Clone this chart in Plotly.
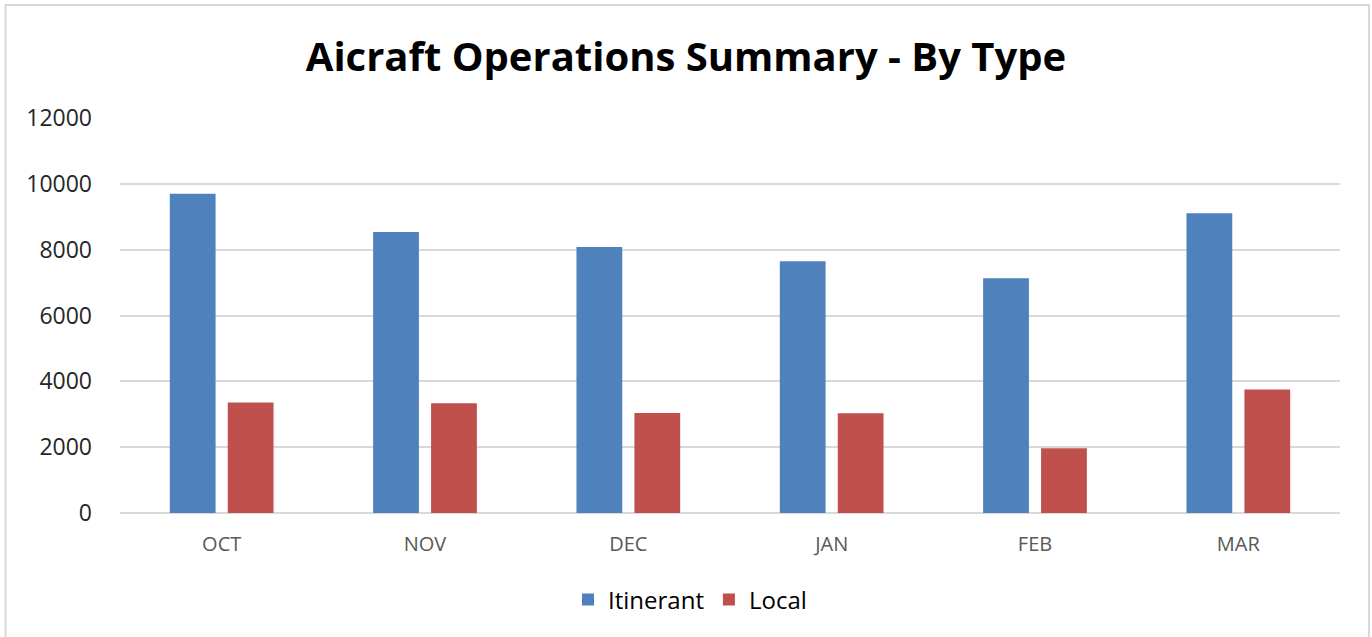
import plotly.graph_objects as go

months = ["OCT", "NOV", "DEC", "JAN", "FEB", "MAR"]
itinerant = [9700, 8535, 8080, 7645, 7130, 9105]
local = [3360, 3335, 3040, 3030, 1970, 3750]
y_ticks = [0, 2000, 4000, 6000, 8000, 10000, 12000]

W, H = 1372, 637
L, R, T, B = 120, 1340, 118, 513

def px_x(px):
    return (px - L) / (R - L)

def px_y(py):
    return (B - py) / (B - T)

fig = go.Figure()
fig.add_trace(go.Bar(name="Itinerant", x=months, y=itinerant, marker_color="#4F81BD",
                     marker_line_width=0))
fig.add_trace(go.Bar(name="Local", x=months, y=local, marker_color="#C0504D",
                     marker_line_width=0))

fig.update_layout(
    width=W, height=H,
    margin=dict(l=L, r=W - R, t=T, b=H - B, autoexpand=False),
    paper_bgcolor="white", plot_bgcolor="white",
    barmode="group", bargap=0.43, bargroupgap=0.21,
    title=dict(text="<b>Aicraft Operations Summary - By Type</b>",
               x=0.5, xanchor="center", y=1 - 57 / H, yanchor="middle",
               font=dict(family="Open Sans", size=40, color="black")),
    legend=dict(orientation="h", x=px_x(690), xanchor="center", y=px_y(600), yanchor="middle",
                font=dict(family="Open Sans", size=24, color="black"),
                itemwidth=30, traceorder="normal"),
    font=dict(family="Open Sans"),
)
fig.update_yaxes(range=[0, 12000], tickvals=y_ticks, ticktext=[str(v) for v in y_ticks],
                 showgrid=True, gridcolor="#d9d9d9", gridwidth=1.5,
                 zeroline=True, zerolinecolor="#d9d9d9", zerolinewidth=1.5,
                 showline=False, ticks="", ticklabelstandoff=27,
                 tickfont=dict(family="Open Sans", size=23, color="#262626"))
fig.update_xaxes(showgrid=False, showline=False, ticks="", ticklabelstandoff=17,
                 tickfont=dict(family="Open Sans", size=20, color="#595959"))

fig.add_shape(type="rect", xref="paper", yref="paper",
              x0=px_x(5.5), x1=px_x(1369), y0=px_y(660), y1=px_y(5),
              line=dict(color="#d9d9d9", width=2), fillcolor="rgba(0,0,0,0)", layer="below")

fig.write_html("out.html", config={"displayModeBar": False},
               post_script="document.body.style.margin='0';document.body.style.overflow='hidden';")
